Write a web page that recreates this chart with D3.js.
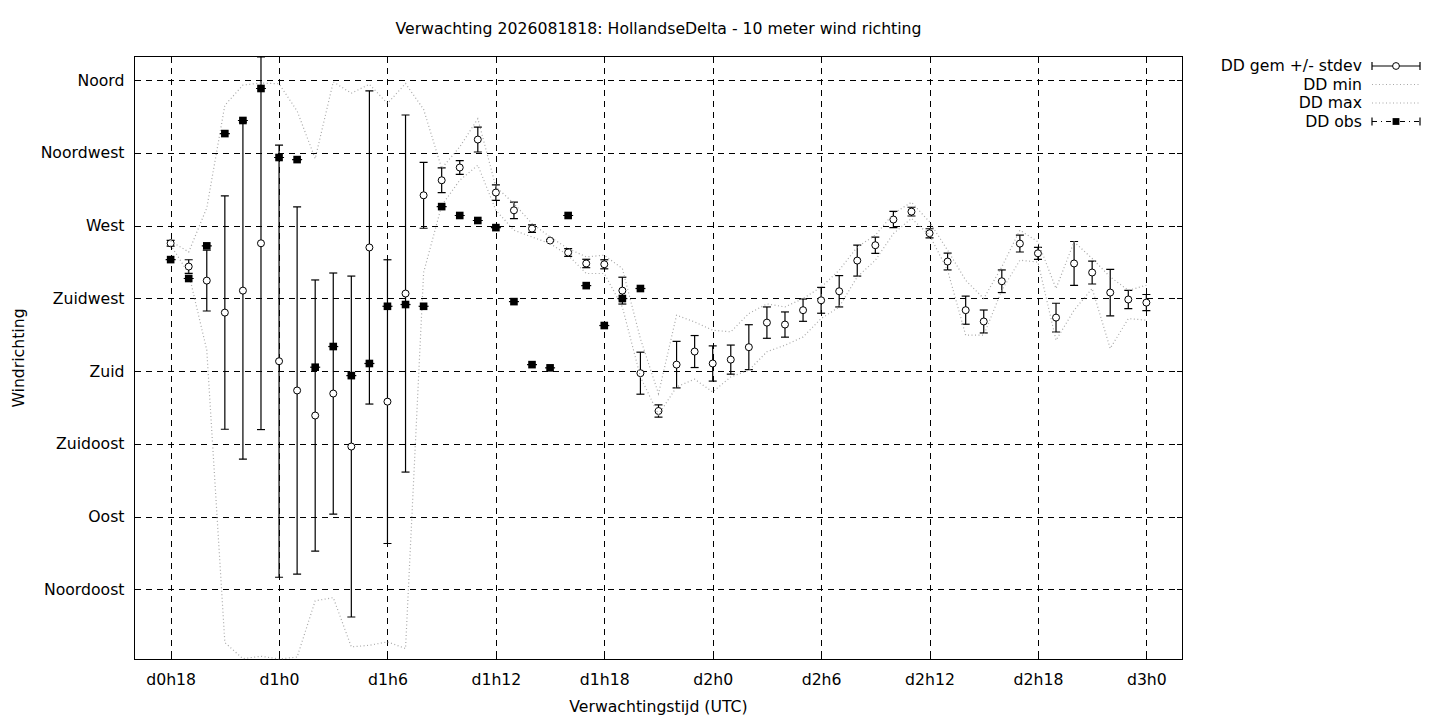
<!DOCTYPE html>
<html>
<head>
<meta charset="utf-8">
<script src="https://cdn.jsdelivr.net/npm/d3@7"></script>
<style>
body { margin: 0; background: #fff; }
svg text { font-family: "DejaVu Sans", sans-serif; font-size: 15.7px; fill: #000; }
</style>
</head>
<body>
<div id="chart"></div>
<script>
// forecast hours since d0h0
const hours = [18, 19, 20, 21, 22, 23, 24, 25, 26, 27, 28, 29, 30, 31, 32, 33, 34, 35, 36,
    37, 38, 39, 40, 41, 42, 43, 44, 45, 46, 47, 48, 49, 50, 51, 52, 53, 54, 55, 56, 57,
    58, 59, 60, 61, 62, 63, 64, 65, 66, 67, 68, 69, 70, 71, 72];

const ddMean = [259.1, 244.7, 236.0, 216.2, 229.8, 259.1, 186.1, 168.0, 152.5, 166.1, 133.3,
    256.5, 161.1, 228.0, 288.8, 298.1, 306.0, 323.3, 290.5, 279.5, 268.2, 260.8, 253.4,
    246.6, 246.1, 229.8, 178.7, 155.3, 184.0, 192.1, 184.7, 187.1, 194.8, 210.0, 208.8,
    217.7, 223.8, 229.4, 248.4, 257.9, 273.8, 278.7, 265.3, 247.8, 217.7, 210.7, 235.6,
    258.9, 252.9, 213.1, 246.6, 241.0, 228.6, 224.3, 222.4];

const ddStdev = [1.8, 4.2, 18.8, 72.2, 104.3, 115.3, 133.7, 113.6, 83.9, 74.6, 105.5, 96.9,
    87.8, 110.5, 20.4, 7.7, 4.3, 7.7, 4.8, 5.1, 2.3, 0.6, 2.4, 2.6, 2.8, 8.3, 13.0, 3.8,
    14.4, 9.9, 10.9, 9.0, 13.9, 9.7, 7.8, 6.9, 8.0, 9.7, 9.6, 5.0, 5.0, 2.7, 2.8, 5.2, 8.7,
    7.1, 7.0, 5.2, 3.7, 8.9, 13.6, 7.1, 14.4, 5.6, 5.0];

const ddMin = [258.0, 240.4, 193.0, 12.0, 2.0, 3.5, 1.8, 3.0, 37.8, 39.8, 9.3, 10.3, 12.4,
    8.3, 241.0, 282.5, 298.1, 307.4, 279.5, 267.2, 263.0, 258.9, 251.7, 240.4, 240.4,
    219.7, 176.4, 153.0, 170.2, 175.0, 167.1, 176.4, 180.5, 192.0, 196.0, 201.1, 212.5,
    219.7, 238.3, 248.6, 265.1, 274.5, 264.1, 242.4, 202.2, 202.2, 230.0, 248.6, 247.5,
    199.1, 217.7, 231.1, 194.0, 212.5, 211.5];

const ddMax = [260.5, 253.7, 281.0, 344.5, 357.0, 358.3, 357.8, 341.0, 311.5, 359.0, 352.0,
    357.5, 345.6, 358.0, 342.0, 305.5, 318.7, 336.2, 294.0, 283.7, 271.3, 263.0, 255.8,
    250.7, 251.7, 243.5, 200.0, 166.0, 214.6, 210.4, 205.3, 204.3, 215.6, 221.6, 219.7,
    224.9, 232.0, 242.4, 256.8, 264.1, 277.5, 284.5, 272.3, 254.8, 236.2, 224.9, 244.5,
    267.2, 260.0, 231.1, 260.0, 249.7, 238.3, 230.0, 233.1];

// observations, from d0h18 onwards
const ddObs = [249.0, 237.3, 257.5, 327.0, 335.1, 354.9, 312.2, 310.9, 182.4, 195.2, 177.2,
    184.7, 220.1, 221.2, 220.1, 281.8, 276.3, 273.2, 268.8, 223.0, 184.0, 182.0, 276.3,
    232.9, 208.2, 224.9, 231.1];

const yTickValues = [45, 90, 135, 180, 225, 270, 315, 360];
const yTickLabels = ['Noordoost', 'Oost', 'Zuidoost', 'Zuid', 'Zuidwest', 'West', 'Noordwest', 'Noord'];
const xTickValues = [18, 24, 30, 36, 42, 48, 54, 60, 66, 72];
const xTickLabels = ['d0h18', 'd1h0', 'd1h6', 'd1h12', 'd1h18', 'd2h0', 'd2h6', 'd2h12', 'd2h18', 'd3h0'];

const width = 1440, height = 720;
const plot = { left: 134.5, right: 1182.5, top: 56.5, bottom: 659.5 };
const fontSize = '15.7px';

const svg = d3.select('#chart').append('svg')
    .attr('width', width)
    .attr('height', height);

const x = d3.scaleLinear().domain([16, 74]).range([plot.left, plot.right]);
const y = d3.scaleLinear().domain([1.5, 374.7]).range([plot.bottom, plot.top]);

svg.append('defs').append('clipPath')
    .attr('id', 'clip')
    .append('rect')
    .attr('x', plot.left)
    .attr('y', plot.top)
    .attr('width', plot.right - plot.left)
    .attr('height', plot.bottom - plot.top);

// title
svg.append('text')
    .attr('x', (plot.left + plot.right) / 2)
    .attr('y', 34)
    .attr('text-anchor', 'middle')
    .text('Verwachting 2026081818: HollandseDelta - 10 meter wind richting');

// grid
const grid = svg.append('g').attr('stroke', '#000').attr('stroke-width', 1)
    .attr('stroke-dasharray', '6,5').attr('shape-rendering', 'crispEdges');

grid.selectAll('.vgrid')
    .data(xTickValues)
    .enter()
    .append('line')
    .attr('x1', d => Math.round(x(d)) + 0.5)
    .attr('x2', d => Math.round(x(d)) + 0.5)
    .attr('y1', plot.top)
    .attr('y2', plot.bottom);

grid.selectAll('.hgrid')
    .data(yTickValues)
    .enter()
    .append('line')
    .attr('y1', d => Math.round(y(d)) + 0.5)
    .attr('y2', d => Math.round(y(d)) + 0.5)
    .attr('x1', plot.left)
    .attr('x2', plot.right);

// axes with inward tick marks
const xAxis = svg.append('g')
    .attr('transform', `translate(0,${plot.bottom})`)
    .call(d3.axisBottom(x).tickValues(xTickValues)
        .tickFormat((d, i) => xTickLabels[i])
        .tickSizeInner(-6).tickSizeOuter(0).tickPadding(14));
xAxis.select('.domain').remove();

const xAxisTop = svg.append('g')
    .attr('transform', `translate(0,${plot.top})`)
    .call(d3.axisTop(x).tickValues(xTickValues).tickFormat('').tickSizeInner(-6).tickSizeOuter(0));
xAxisTop.select('.domain').remove();

const yAxis = svg.append('g')
    .attr('transform', `translate(${plot.left},0)`)
    .call(d3.axisLeft(y).tickValues(yTickValues)
        .tickFormat((d, i) => yTickLabels[i])
        .tickSizeInner(-6).tickSizeOuter(0).tickPadding(10));
yAxis.select('.domain').remove();

const yAxisRight = svg.append('g')
    .attr('transform', `translate(${plot.right},0)`)
    .call(d3.axisRight(y).tickValues(yTickValues).tickFormat('').tickSizeInner(-6).tickSizeOuter(0));
yAxisRight.select('.domain').remove();

svg.selectAll('.tick line').attr('stroke', '#000').attr('shape-rendering', 'crispEdges');
svg.selectAll('.tick text')
    .style('font-family', '"DejaVu Sans", sans-serif')
    .style('font-size', fontSize)
    .attr('fill', '#000');

// frame
svg.append('rect')
    .attr('x', plot.left)
    .attr('y', plot.top)
    .attr('width', plot.right - plot.left)
    .attr('height', plot.bottom - plot.top)
    .attr('fill', 'none')
    .attr('stroke', '#000')
    .attr('stroke-width', 1)
    .attr('shape-rendering', 'crispEdges');

// axis titles
svg.append('text')
    .attr('x', (plot.left + plot.right) / 2)
    .attr('y', 712)
    .attr('text-anchor', 'middle')
    .text('Verwachtingstijd (UTC)');

svg.append('text')
    .attr('transform', `translate(24,${(plot.top + plot.bottom) / 2}) rotate(-90)`)
    .attr('text-anchor', 'middle')
    .text('Windrichting');

const g = svg.append('g').attr('clip-path', 'url(#clip)');

// DD gem +/- stdev
const capW = 4;
const mean = hours.map((h, i) => ({ h, m: ddMean[i], s: ddStdev[i] }));

const bars = g.append('g').attr('stroke', '#000').attr('stroke-width', 1.2);
mean.forEach(d => {
    const cx = x(d.h);
    const yHi = y(d.m + d.s);
    const yLo = y(d.m - d.s);
    bars.append('line').attr('x1', cx).attr('x2', cx).attr('y1', yHi).attr('y2', yLo);
    bars.append('line').attr('x1', cx - capW).attr('x2', cx + capW).attr('y1', yHi).attr('y2', yHi);
    bars.append('line').attr('x1', cx - capW).attr('x2', cx + capW).attr('y1', yLo).attr('y2', yLo);
});

g.selectAll('.mean')
    .data(mean)
    .enter()
    .append('circle')
    .attr('class', 'mean')
    .attr('cx', d => x(d.h))
    .attr('cy', d => y(d.m))
    .attr('r', 3.5)
    .attr('fill', '#fff')
    .attr('stroke', '#000')
    .attr('stroke-width', 1);

// DD min / DD max
const line = d3.line().x(d => x(d[0])).y(d => y(d[1]));
const dotted = { stroke: '#a8a8a8', width: 1.2, dash: '1,2.5' };

[ddMin, ddMax].forEach(series => {
    g.append('path')
        .datum(hours.map((h, i) => [h, series[i]]))
        .attr('d', line)
        .attr('fill', 'none')
        .attr('stroke', dotted.stroke)
        .attr('stroke-width', dotted.width)
        .attr('stroke-dasharray', dotted.dash);
});

// DD obs
const obs = ddObs.map((v, i) => ({ h: hours[i], v }));
const sq = 7.6;

g.selectAll('.obscap')
    .data(obs)
    .enter()
    .append('line')
    .attr('class', 'obscap')
    .attr('x1', d => x(d.h) - 5)
    .attr('x2', d => x(d.h) + 5)
    .attr('y1', d => y(d.v))
    .attr('y2', d => y(d.v))
    .attr('stroke', '#000')
    .attr('stroke-width', 1.2);

g.selectAll('.obs')
    .data(obs)
    .enter()
    .append('rect')
    .attr('class', 'obs')
    .attr('x', d => x(d.h) - sq / 2)
    .attr('y', d => y(d.v) - sq / 2)
    .attr('width', sq)
    .attr('height', sq)
    .attr('fill', '#000');

// legend
const legend = svg.append('g');
const legendRows = [66, 84.5, 103, 121.5];
const lx0 = 1372, lx1 = 1420, lxm = 1396;
const legendNames = ['DD gem +/- stdev', 'DD min', 'DD max', 'DD obs'];

legendNames.forEach((name, i) => {
    legend.append('text')
        .attr('x', 1362)
        .attr('y', legendRows[i])
        .attr('dy', '0.35em')
        .attr('text-anchor', 'end')
        .text(name);
});

const l0 = legend.append('g').attr('stroke', '#000').attr('stroke-width', 1.2);
l0.append('line').attr('x1', lx0).attr('x2', lx1).attr('y1', legendRows[0]).attr('y2', legendRows[0]);
l0.append('line').attr('x1', lx0).attr('x2', lx0).attr('y1', legendRows[0] - 4).attr('y2', legendRows[0] + 4);
l0.append('line').attr('x1', lx1).attr('x2', lx1).attr('y1', legendRows[0] - 4).attr('y2', legendRows[0] + 4);
legend.append('circle').attr('cx', lxm).attr('cy', legendRows[0]).attr('r', 3.4)
    .attr('fill', '#fff').attr('stroke', '#000');

[1, 2].forEach(i => {
    legend.append('line')
        .attr('x1', lx0).attr('x2', lx1)
        .attr('y1', legendRows[i]).attr('y2', legendRows[i])
        .attr('stroke', dotted.stroke)
        .attr('stroke-width', dotted.width)
        .attr('stroke-dasharray', dotted.dash);
});

const l3 = legend.append('g').attr('stroke', '#000').attr('stroke-width', 1.2);
l3.append('line').attr('x1', lx0).attr('x2', lx1).attr('y1', legendRows[3]).attr('y2', legendRows[3])
    .attr('stroke-dasharray', '5,4,1,4');
l3.append('line').attr('x1', lx0).attr('x2', lx0).attr('y1', legendRows[3] - 4).attr('y2', legendRows[3] + 4);
l3.append('line').attr('x1', lx1).attr('x2', lx1).attr('y1', legendRows[3] - 4).attr('y2', legendRows[3] + 4);
legend.append('rect').attr('x', lxm - 3.4).attr('y', legendRows[3] - 3.4)
    .attr('width', 6.8).attr('height', 6.8).attr('fill', '#000');
</script>
</body>
</html>
